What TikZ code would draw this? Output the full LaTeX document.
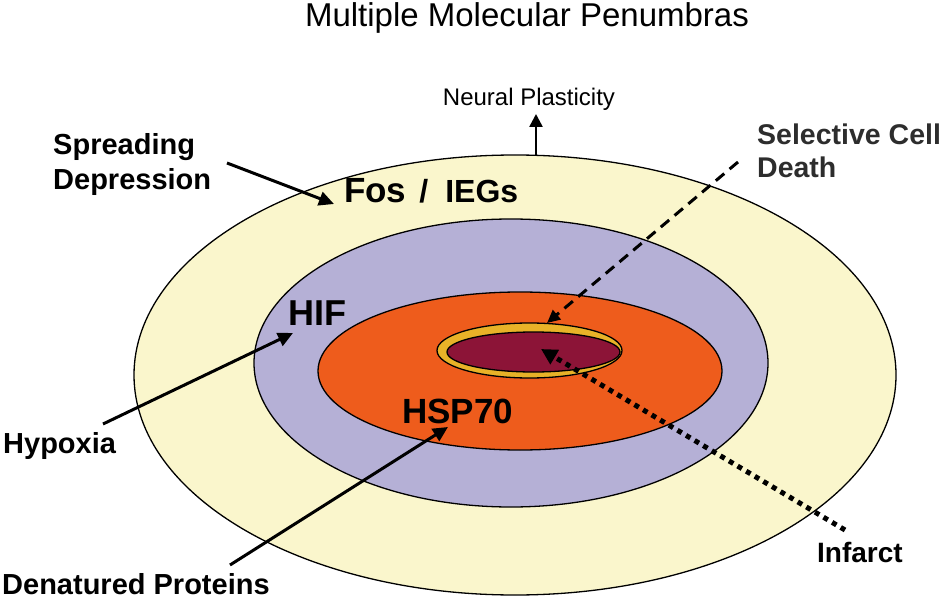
\documentclass[tikz,border=0pt]{standalone}
\usepackage{fontspec}
\setmainfont{Liberation Sans}
\usetikzlibrary{arrows.meta}
\definecolor{cream}{RGB}{250,246,204}
\definecolor{lav}{RGB}{181,176,214}
\definecolor{orng}{RGB}{238,92,28}
\definecolor{gold}{RGB}{232,178,40}
\definecolor{dred}{RGB}{140,20,55}
\definecolor{lblgray}{RGB}{45,45,45}
\begin{document}
\begin{tikzpicture}[x=1pt,y=-1pt,
  lbl/.style={inner sep=0pt,anchor=base west,font=\bfseries\fontsize{29}{34}\selectfont},
  ring/.style={draw=black,line width=1.3pt},
  solidarrow/.style={line width=3pt,-{Triangle[length=15pt,width=14pt]}},
  dasharrow/.style={line width=3pt,dash pattern=on 11pt off 7pt,-{Triangle[length=13pt,width=12pt]}},
  dotarrow/.style={line width=5pt,dash pattern=on 5pt off 5pt,-{Triangle[length=16pt,width=16pt]}}]
\useasboundingbox (0,0) rectangle (950,604);
\fill[white] (0,0) rectangle (950,604);
% ellipses
\draw[ring,fill=cream] (515,375) ellipse [x radius=381pt, y radius=220pt];
\draw[ring,fill=lav] (511,363) ellipse [x radius=257pt, y radius=144pt];
\draw[ring,fill=orng] (520,371) ellipse [x radius=202pt, y radius=79pt];
\draw[ring,fill=gold] (529.5,350.5) ellipse [x radius=92.5pt, y radius=27.5pt];
\draw[ring,fill=dred] (533.5,352) ellipse [x radius=86.5pt, y radius=20pt];
% title and labels
\node[inner sep=0pt,anchor=base,font=\fontsize{33}{38}\selectfont] (title) at (527,27) {Multiple Molecular Penumbras};
\node[inner sep=0pt,anchor=base,font=\fontsize{24}{28}\selectfont] (np) at (529,106) {Neural Plasticity};
\node[lbl] (spr1) at (53,155) {Spreading};
\node[lbl] (spr2) at (53,190) {Depression};
\node[lbl,text=lblgray,font=\bfseries\fontsize{28.5}{34}\selectfont] (scd1) at (757,145) {Selective Cell};
\node[lbl,text=lblgray,font=\bfseries\fontsize{28.5}{34}\selectfont] (scd2) at (757,178) {Death};
\node[lbl,font=\bfseries\fontsize{32}{38}\selectfont] (fos) at (344,203) {{\fontsize{35}{40}\selectfont Fos}\hspace{13pt}/\hspace{17pt}IEGs};
\node[lbl,font=\bfseries\fontsize{36}{42}\selectfont] (hif) at (288,325) {HIF};
\node[lbl,font=\bfseries\fontsize{35}{42}\selectfont] (hsp) at (402,423) {HSP70};
\node[lbl] (hyp) at (3,453) {Hypoxia};
\node[lbl] (den) at (2,594) {Denatured Proteins};
\node[lbl,font=\bfseries\fontsize{28}{34}\selectfont] (inf) at (817,562) {Infarct};
% arrow end points
\coordinate (npA) at (536,155);
\coordinate (npB) at (536,114);
\coordinate (sprA) at (227,163);
\coordinate (sprB) at (334,204);
\coordinate (hypA) at (103,424);
\coordinate (hypB) at (293,333);
\coordinate (denA) at (230,565);
\coordinate (denB) at (448,427);
\coordinate (scdA) at (738,162);
\coordinate (scdB) at (547,323);
\coordinate (infA) at (845,530);
\coordinate (infB) at (541,349);
% arrows
\draw[line width=2.5pt,-{Triangle[length=13pt,width=13pt]}] (npA) -- (npB);
\draw[solidarrow] (sprA) -- (sprB);
\draw[solidarrow] (hypA) -- (hypB);
\draw[solidarrow] (denA) -- (denB);
\draw[dasharrow] (scdA) -- (scdB);
\draw[dotarrow] (infA) -- (infB);
\end{tikzpicture}
\end{document}
